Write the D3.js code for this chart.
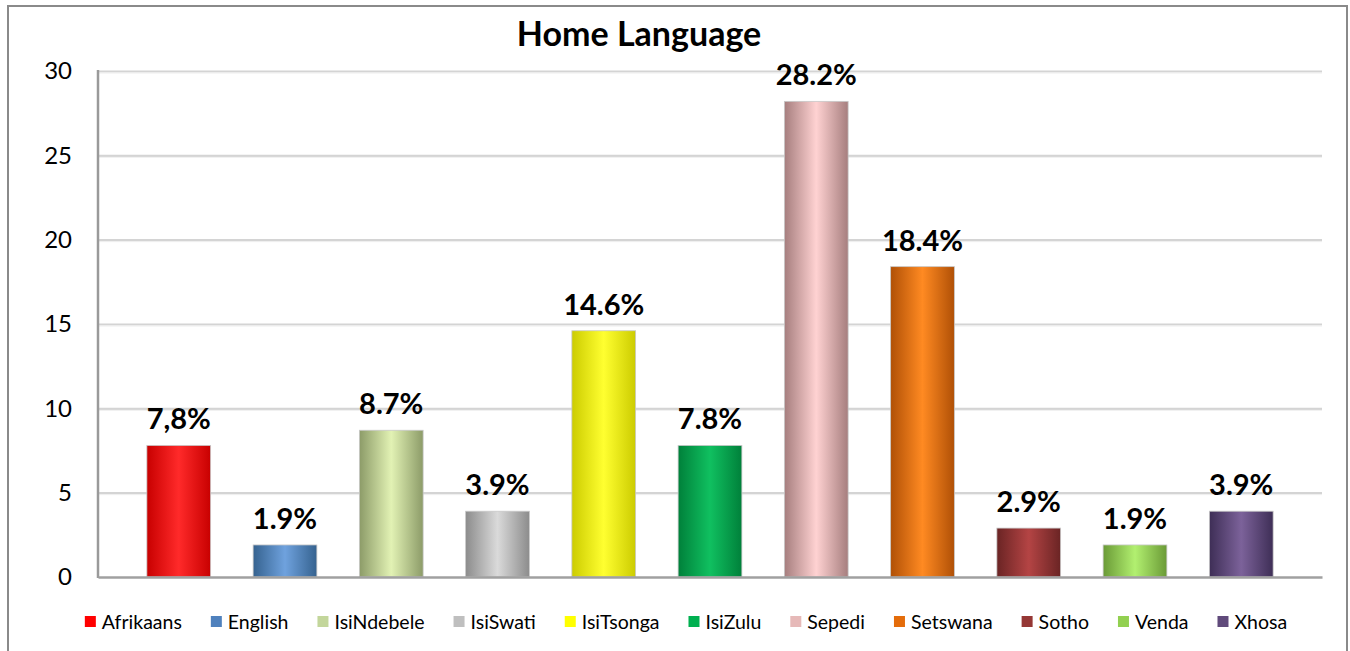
<!DOCTYPE html>
<html>
<head>
<meta charset="utf-8">
<script src="https://cdn.jsdelivr.net/npm/d3@7"></script>
<style>
  html, body { margin: 0; padding: 0; background: #fff; }
  svg { display: block; }
  text { font-family: Lato, "Open Sans", sans-serif; }
</style>
</head>
<body>
<svg id="chart" width="1350" height="651"></svg>
<script>
const categories = ["Afrikaans","English","IsiNdebele","IsiSwati","IsiTsonga","IsiZulu","Sepedi","Setswana","Sotho","Venda","Xhosa"];
const values = [7.8, 1.9, 8.7, 3.9, 14.6, 7.8, 28.2, 18.4, 2.9, 1.9, 3.9];
const valueLabels = ["7,8%","1.9%","8.7%","3.9%","14.6%","7.8%","28.2%","18.4%","2.9%","1.9%","3.9%"];
const yTicks = [0, 5, 10, 15, 20, 25, 30];
const legendColors = ["#ff0000","#4f81bd","#c3d69b","#bfbfbf","#ffff00","#00b050","#e6b9b8","#e46c0a","#953735","#92d050","#604a7b"];
const barMid = ["#ff2a2a","#6fa2de","#e2f2b4","#dadada","#ffff30","#10c060","#ffd2d2","#ff8a22","#b44444","#b2f070","#7c629a"];
const barEdge = ["#c80000","#35628f","#8c9b68","#8c8c8c","#cccc00","#00803a","#a67e7e","#b05006","#6a2424","#6a9a36","#3e2e56"];
const title = "Home Language";

const svg = d3.select("#chart");
const m = { left: 98, right: 1322, top: 71, bottom: 577 };

// outer frame
svg.append("rect").attr("x", 8).attr("y", 6).attr("width", 1339).attr("height", 660)
  .attr("fill", "#fff").attr("stroke", "#8a8a8a").attr("stroke-width", 2);

const x = d3.scaleBand().domain(categories).range([m.left, m.right])
  .paddingInner(0.4).paddingOuter(0.46);
const y = d3.scaleLinear().domain([0, 30]).range([m.bottom, m.top]);

// gradients
const defs = svg.append("defs");
categories.forEach((c, i) => {
  const g = defs.append("linearGradient").attr("id", "g" + i)
    .attr("x1", "0").attr("x2", "1").attr("y1", "0").attr("y2", "0");
  g.append("stop").attr("offset", "0%").attr("stop-color", barEdge[i]);
  g.append("stop").attr("offset", "50%").attr("stop-color", barMid[i]);
  g.append("stop").attr("offset", "100%").attr("stop-color", barEdge[i]);
});

// gridlines
const grid = svg.append("g");
grid.selectAll("line.g1").data(yTicks.filter(t => t > 0)).join("line")
  .attr("x1", m.left).attr("x2", m.right)
  .attr("y1", d => y(d) + 0.5).attr("y2", d => y(d) + 0.5)
  .attr("stroke", "#d4d4d4").attr("stroke-width", 2.2);
grid.selectAll("line.g2").data(yTicks.filter(t => t > 0)).join("line")
  .attr("x1", m.left).attr("x2", m.right)
  .attr("y1", d => y(d) + 2).attr("y2", d => y(d) + 2)
  .attr("stroke", "#eeeeee").attr("stroke-width", 1);

// y axis
const yAxis = d3.axisLeft(y).tickValues(yTicks).tickSize(0).tickPadding(26);
const ya = svg.append("g").attr("transform", `translate(${m.left},0)`).call(yAxis);
ya.select(".domain").remove();
ya.selectAll("text").attr("font-size", 24).attr("fill", "#000")
  .style("font-family", "Lato, sans-serif");
svg.append("line").attr("x1", m.left).attr("x2", m.left).attr("y1", m.top - 1).attr("y2", m.bottom + 1)
  .attr("stroke", "#9a9a9a").attr("stroke-width", 2.5);

// bars
svg.append("g").selectAll("rect").data(categories).join("rect")
  .attr("x", d => x(d))
  .attr("y", (d, i) => y(values[i]))
  .attr("width", x.bandwidth())
  .attr("height", (d, i) => y(0) - y(values[i]))
  .attr("fill", (d, i) => `url(#g${i})`)
  .attr("stroke", "#c8c8c8").attr("stroke-width", 0.8);

// x axis line
const xAxis = d3.axisBottom(x).tickSize(0).tickFormat("");
const xa = svg.append("g").attr("transform", `translate(0,${m.bottom})`).call(xAxis);
xa.select(".domain").attr("stroke", "#a0a0a0").attr("stroke-width", 2.5);

// value labels
svg.append("g").selectAll("text").data(categories).join("text")
  .attr("x", d => x(d) + x.bandwidth() / 2)
  .attr("y", (d, i) => y(values[i]) - 16)
  .attr("text-anchor", "middle")
  .attr("font-size", 29).attr("font-weight", 700).attr("fill", "#000")
  .text((d, i) => valueLabels[i]);

// title
svg.append("text").attr("x", 639).attr("y", 46).attr("text-anchor", "middle")
  .attr("font-size", 34).attr("font-weight", 700).attr("fill", "#000").text(title);

// legend
const lg = svg.append("g");
const items = lg.selectAll("g").data(categories).join("g");
items.append("rect").attr("width", 11).attr("height", 11).attr("y", -6)
  .attr("fill", (d, i) => legendColors[i]);
items.append("text").attr("x", 17).attr("y", 0).attr("dy", "0.35em")
  .attr("font-size", 19.5).attr("fill", "#000").text(d => d);
let cx = 0;
const gap = 29;
const pos = [];
items.each(function() {
  const w = d3.select(this).select("text").node().getComputedTextLength();
  pos.push(cx);
  cx += 17 + w + gap;
});
const total = cx - gap;
const start = 686 - total / 2;
items.attr("transform", (d, i) => `translate(${start + pos[i]},622)`);
</script>
</body>
</html>
